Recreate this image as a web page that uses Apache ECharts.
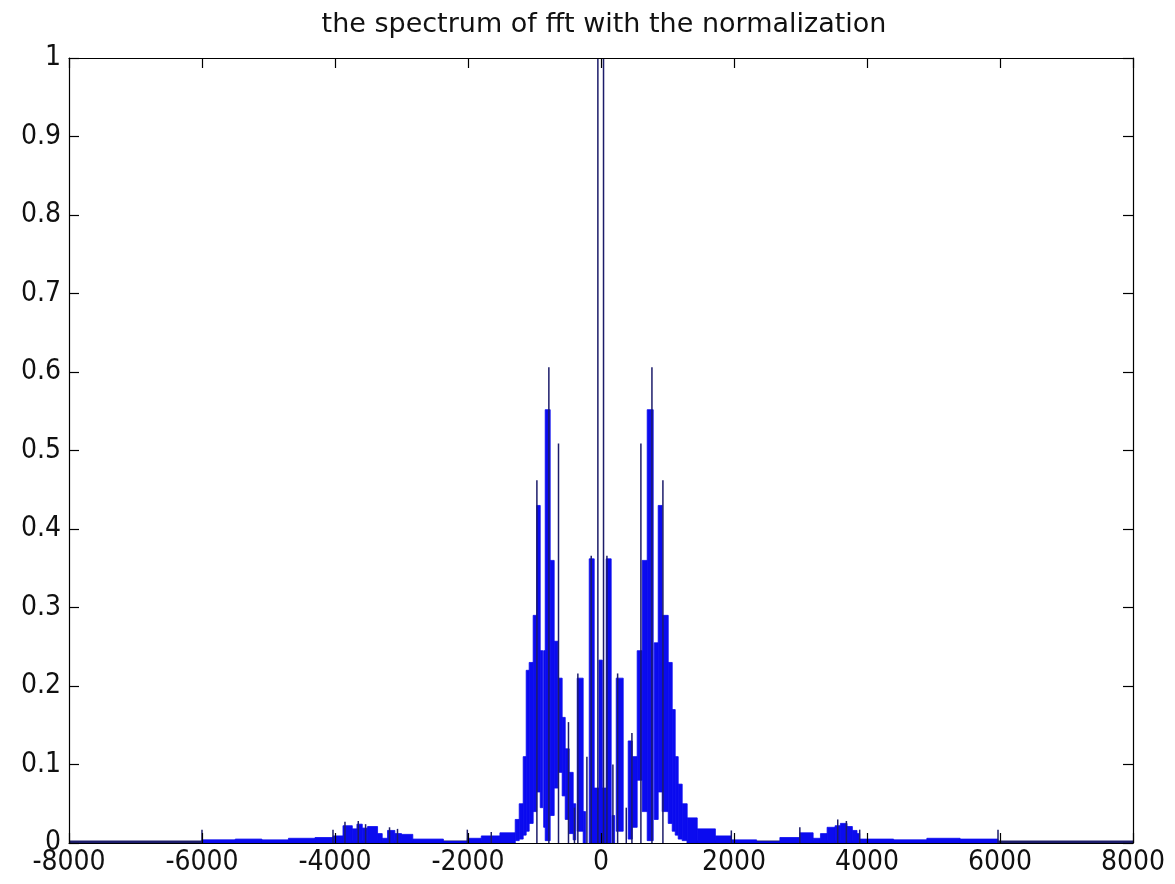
<!DOCTYPE html>
<html><head><meta charset="utf-8">
<script src="https://cdn.jsdelivr.net/npm/echarts/dist/echarts.min.js"></script>
<style>html,body{margin:0;padding:0;background:#fff}#c{width:1175px;height:884px}</style>
</head><body><div id="c"></div>
<script>
// ---- data ----
const chartTitle = 'the spectrum of fft with the normalization';
const xTickValues = [-8000, -6000, -4000, -2000, 0, 2000, 4000, 6000, 8000];
const yTickLabels = ['0', '0.1', '0.2', '0.3', '0.4', '0.5', '0.6', '0.7', '0.8', '0.9', '1'];

// dense oscillation bands: [start frequency, end frequency, lower envelope, upper envelope]
const bandStart = [-6000,-5500,-5100,-4700,-4300,-4030,-3880,-3740,-3670,-3590,-3510,-3360,-3290,-3210,-3100,-3000,-2830,-2370,-2010,-1800,-1520,
  -1290,-1230,-1170,-1125,-1080,-1020,-967,-914,-862,-839,-764,-704,-636,-584,-538,-478,-418,-358,-268,-177,-130,-30,
  78,168,229,409,470,544,620,695,800,860,920,1011,1071,1116,1161,1221,1296,1447,
  1720,1960,2340,2690,2990,3190,3300,3400,3520,3600,3700,3780,3850,3890,4400,4900,5400];
const bandEnd = [-5500,-5100,-4700,-4300,-4030,-3880,-3740,-3670,-3590,-3510,-3360,-3290,-3210,-3100,-3000,-2830,-2370,-2010,-1800,-1520,-1290,
  -1230,-1170,-1125,-1080,-1020,-967,-914,-875,-839,-764,-704,-648,-584,-538,-478,-418,-380,-268,-232,-102,120,20,
  153,205,334,470,544,620,695,785,860,920,1011,1071,1116,1161,1221,1296,1447,1720,
  1960,2340,2690,2990,3190,3300,3400,3520,3600,3700,3780,3850,3890,4400,4900,5400,5970];
const bandLow = [0,0,0,0,0,0,0,0,0,0,0,0,0,0,0,0,0,0,0,0,0,
  0.003,0.005,0.01,0.015,0.025,0.04,0.065,0.045,0.02,0.003,0.035,0.07,0.09,0.06,0.03,0.012,0.004,0.015,0,0,0,0,
  0,0,0.015,0.005,0.02,0.08,0.04,0.003,0.03,0.065,0.04,0.025,0.015,0.01,0.005,0.003,0,0,
  0,0,0,0,0,0,0,0,0,0,0,0,0,0,0,0,0];
const bandHigh = [0.004,0.005,0.004,0.006,0.007,0.009,0.022,0.018,0.024,0.019,0.021,0.012,0.006,0.016,0.012,0.011,0.005,0.002,0.006,0.009,0.013,
  0.03,0.05,0.11,0.22,0.23,0.29,0.43,0.245,0.245,0.552,0.36,0.257,0.21,0.16,0.12,0.09,0.05,0.21,0.04,0.362,0.07,0.233,
  0.362,0.035,0.21,0.13,0.11,0.245,0.36,0.552,0.255,0.43,0.29,0.23,0.17,0.11,0.075,0.05,0.032,0.018,
  0.009,0.004,0.0015,0.007,0.013,0.006,0.012,0.02,0.022,0.025,0.021,0.016,0.012,0.005,0.004,0.006,0.005];

// isolated spectral lines: frequency and peak magnitude
const spikeX = [-6000,-4030,-3850,-3650,-3540,-3180,-3060,-2010,-1650,
  -964,-784,-639,-489,-399,-348,-212,-147,-47,38,89,179,250,380,465,600,766,931,
  1960,2990,3560,3690,3890,5970];
const spikeY = [0.017,0.017,0.027,0.028,0.024,0.02,0.018,0.017,0.014,
  0.462,0.606,0.509,0.154,0.045,0.216,0.11,0.366,1.0,1.0,0.366,0.1,0.216,0.045,0.14,0.509,0.606,0.462,
  0.016,0.02,0.03,0.028,0.017,0.017];

// flat zero-level stretches of the trace
const flatStart = [-8000, 1290];
const flatEnd = [-1290, 8000];

// ---- chart ----
const FILL = '#0b0bef';
const NAVY = '#1c1c6a';
const tickFont = "'Liberation Sans Narrow', 'DejaVu Sans Condensed', 'Liberation Sans', Arial, sans-serif";

const bandData = bandStart.map((s, i) => [s, bandEnd[i], bandLow[i], bandHigh[i]]);
const spikeData = spikeX.map((x, i) => [x, 0, spikeY[i]]);
const flatData = flatStart.map((s, i) => [s, flatEnd[i], 0]);

const chart = echarts.init(document.getElementById('c'), null, {renderer: 'canvas'});
const axisCommon = {
  type: 'value', min: -8000, max: 8000, interval: 2000, z: 10,
  axisLine: {show: true, onZero: false, lineStyle: {color: '#000', width: 1.2}},
  axisTick: {show: true, inside: true, length: 10, lineStyle: {color: '#000', width: 1.2}},
  splitLine: {show: false}
};
const yCommon = {
  type: 'value', min: 0, max: 1, interval: 0.1, z: 10,
  axisLine: {show: true, onZero: false, lineStyle: {color: '#000', width: 1.2}},
  axisTick: {show: true, inside: true, length: 10, lineStyle: {color: '#000', width: 1.2}},
  splitLine: {show: false}
};
chart.setOption({
  animation: false,
  backgroundColor: '#fff',
  title: {
    text: chartTitle, left: 599, top: 6, textAlign: 'center',
    textStyle: {fontFamily: "'DejaVu Sans', sans-serif", fontWeight: 'normal', fontSize: 27, color: '#111'}
  },
  grid: {left: 69, right: 42, top: 58, bottom: 41, containLabel: false},
  xAxis: [
    Object.assign({}, axisCommon, {position: 'bottom',
      axisLabel: {show: true, color: '#111', fontSize: 28, fontFamily: tickFont, margin: 6,
        formatter: v => xTickValues.includes(v) ? String(v) : ''}}),
    Object.assign({}, axisCommon, {position: 'top', axisLabel: {show: false}})
  ],
  yAxis: [
    Object.assign({}, yCommon, {position: 'left',
      axisLabel: {show: true, color: '#111', fontSize: 28, fontFamily: tickFont, margin: 8,
        formatter: v => yTickLabels[Math.round(v * 10)]}}),
    Object.assign({}, yCommon, {position: 'right', axisLabel: {show: false}})
  ],
  series: [
    {
      type: 'custom', xAxisIndex: 0, yAxisIndex: 0, z: 2,
      data: flatData,
      encode: {x: [0, 1], y: 2},
      renderItem: (params, api) => {
        const a = api.coord([api.value(0), api.value(2)]);
        const b = api.coord([api.value(1), api.value(2)]);
        return {type: 'line', shape: {x1: a[0], y1: a[1] - 1, x2: b[0], y2: b[1] - 1},
          style: {stroke: NAVY, lineWidth: 3}};
      }
    },
    {
      type: 'custom', xAxisIndex: 0, yAxisIndex: 0, z: 3,
      data: bandData,
      encode: {x: [0, 1], y: [2, 3]},
      renderItem: (params, api) => {
        const p0 = api.coord([api.value(0), api.value(3)]);
        const p1 = api.coord([api.value(1), api.value(2)]);
        return {type: 'rect',
          shape: {x: p0[0], y: p0[1], width: Math.max(p1[0] - p0[0], 1), height: Math.max(p1[1] - p0[1], 1)},
          style: {fill: FILL, stroke: FILL, lineWidth: 0.8}};
      }
    },
    {
      type: 'custom', xAxisIndex: 0, yAxisIndex: 0, z: 4,
      data: spikeData,
      encode: {x: 0, y: [1, 2]},
      renderItem: (params, api) => {
        const a = api.coord([api.value(0), api.value(1)]);
        const b = api.coord([api.value(0), api.value(2)]);
        return {type: 'line', shape: {x1: a[0], y1: a[1], x2: b[0], y2: b[1]},
          style: {stroke: NAVY, lineWidth: 1.5}};
      }
    }
  ]
});
</script>
</body></html>
